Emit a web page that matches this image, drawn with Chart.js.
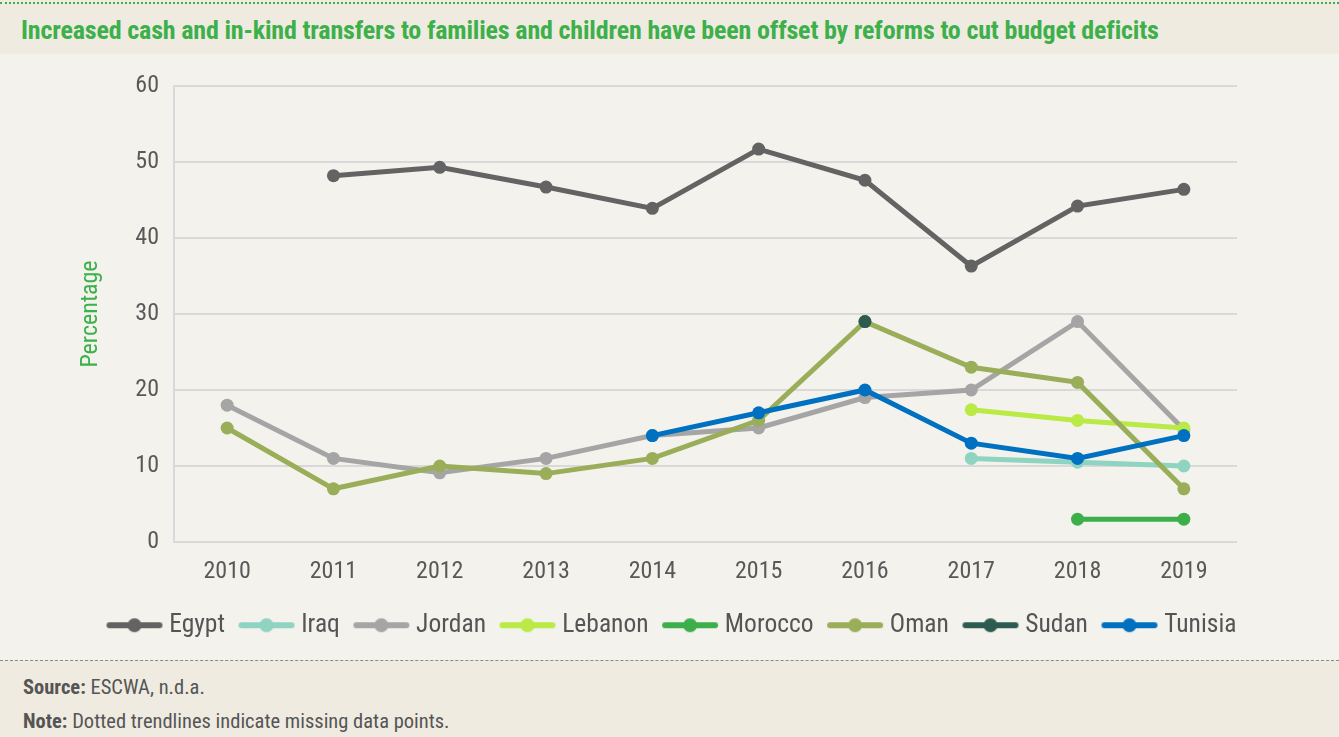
<!DOCTYPE html>
<html>
<head>
<meta charset="utf-8">
<script src="https://cdn.jsdelivr.net/npm/chart.js@4/dist/chart.umd.min.js"></script>
<style>
  html, body { margin: 0; padding: 0; }
  body { width: 1339px; height: 737px; background: #f3f2ec; position: relative; overflow: hidden;
         font-family: "Roboto Condensed", Roboto, sans-serif; font-stretch: condensed; }
  #head { position: absolute; left: 0; top: 0; width: 1339px; height: 54px; background: #efebe0; }
  #head .dots { position: absolute; left: 0; top: 2px; width: 1339px; border-top: 2px dotted #3db04b; }
  #head h1 { position: absolute; left: 21px; top: 15px; margin: 0; font-size: 26px; line-height: 30px;
             font-weight: bold; color: #3db04b; white-space: nowrap; letter-spacing: -0.17px; }
  #wrap { position: absolute; left: 0; top: 54px; width: 1339px; height: 606px; }
  #foot { position: absolute; left: 0; top: 660px; width: 1339px; height: 77px; background: #efebe1;
          border-top: 1px dashed #8a8a8a; color: #555; font-size: 20.5px; }
  #foot p { position: absolute; left: 23px; margin: 0; white-space: nowrap; line-height: 24px; }
</style>
</head>
<body>
<div id="head"><div class="dots"></div><h1>Increased cash and in-kind transfers to families and children have been offset by reforms to cut budget deficits</h1></div>
<div id="wrap"><canvas id="c" width="1339" height="606"></canvas></div>
<div id="foot">
  <p style="top:14px"><b>Source:</b> ESCWA, n.d.a.</p>
  <p style="top:48px"><b>Note:</b> Dotted trendlines indicate missing data points.</p>
</div>
<script>
const years = ["2010", "2011", "2012", "2013", "2014", "2015", "2016", "2017", "2018", "2019"];
const countries = ["Egypt", "Iraq", "Jordan", "Lebanon", "Morocco", "Oman", "Sudan", "Tunisia"];
const colors = ["#636363", "#8fd3c1", "#a5a5a5", "#b9ea45", "#3daf4a", "#9aae5a", "#2e5b50", "#0070c0"];

const egypt   = [null, 48.2, 49.3, 46.7, 43.9, 51.7, 47.6, 36.3, 44.2, 46.4];
const iraq    = [null, null, null, null, null, null, null, 11, 10.5, 10];
const jordan  = [18, 11, 9.1, 11, 14, 15, 19, 20, 29, 14.8];
const lebanon = [null, null, null, null, null, null, null, 17.4, 16, 15];
const morocco = [null, null, null, null, null, null, null, null, 3, 3];
const oman    = [15, 7, 10, 9, 11, 16, 29, 23, 21, 7];
const sudan   = [null, null, null, null, null, null, 29, null, null, null];
const tunisia = [null, null, null, null, 14, 17, 20, 13, 11, 14];

const yTicks = [0, 10, 20, 30, 40, 50, 60];
const series = [egypt, iraq, jordan, lebanon, morocco, oman, sudan, tunisia];

const FONT = '"Roboto Condensed", Roboto, sans-serif';
const GRID = "#d9d9d9";

// legend swatch: a short line with a dot in the middle
function legendIcon(color) {
  const cv = document.createElement("canvas");
  cv.width = 60; cv.height = 16;
  const g = cv.getContext("2d");
  g.strokeStyle = color; g.lineWidth = 6; g.lineCap = "round";
  g.beginPath(); g.moveTo(5, 8); g.lineTo(55, 8); g.stroke();
  g.fillStyle = color;
  g.beginPath(); g.arc(30, 8, 7, 0, Math.PI * 2); g.fill();
  return cv;
}

const datasets = countries.map((name, i) => ({
  label: name,
  data: series[i],
  borderColor: colors[i],
  backgroundColor: colors[i],
  borderWidth: 5,
  pointRadius: 6.5,
  pointHoverRadius: 6.5,
  pointBorderWidth: 0,
  spanGaps: false,
  order: countries.length - i
}));

new Chart(document.getElementById("c"), {
  type: "line",
  data: { labels: years, datasets },
  options: {
    responsive: false,
    animation: false,
    layout: { padding: { left: 10, right: 0, top: 32, bottom: 12 } },
    plugins: {
      tooltip: { enabled: false },
      legend: {
        position: "bottom",
        labels: {
          usePointStyle: true,
          pointStyleWidth: 44,
          boxHeight: 16,
          padding: 19.5,
          color: "#555555",
          font: { family: FONT, size: 25.5 },
          generateLabels(chart) {
            const items = Chart.defaults.plugins.legend.labels.generateLabels(chart);
            items.sort((a, b) => a.datasetIndex - b.datasetIndex);
            items.forEach(it => { it.pointStyle = legendIcon(colors[it.datasetIndex]); });
            return items;
          }
        }
      }
    },
    scales: {
      x: {
        offset: true,
        grid: { display: false, drawTicks: false },
        border: { display: false },
        ticks: { color: "#595959", padding: 16, font: { family: FONT, size: 24 } },
        afterFit(s) { s.height = 51; }
      },
      y: {
        min: 0, max: 60,
        afterBuildTicks(s) { s.ticks = yTicks.map(v => ({ value: v })); },
        grid: { color: GRID, lineWidth: 2, drawTicks: false },
        border: { color: GRID, width: 2 },
        ticks: { color: "#595959", padding: 15, font: { family: FONT, size: 24 } },
        title: { display: true, text: "Percentage", color: "#3db04b", padding: { top: 66.6, bottom: 0 },
                 font: { family: FONT, size: 24 } },
        afterFit(s) { s.width = 164; }
      },
      // empty right-hand axis that only reserves the right margin
      yRight: {
        position: "right",
        min: 0, max: 1,
        grid: { display: false, drawTicks: false },
        border: { display: false },
        ticks: { display: false },
        afterFit(s) { s.width = 102; }
      }
    }
  }
});
</script>
</body>
</html>
